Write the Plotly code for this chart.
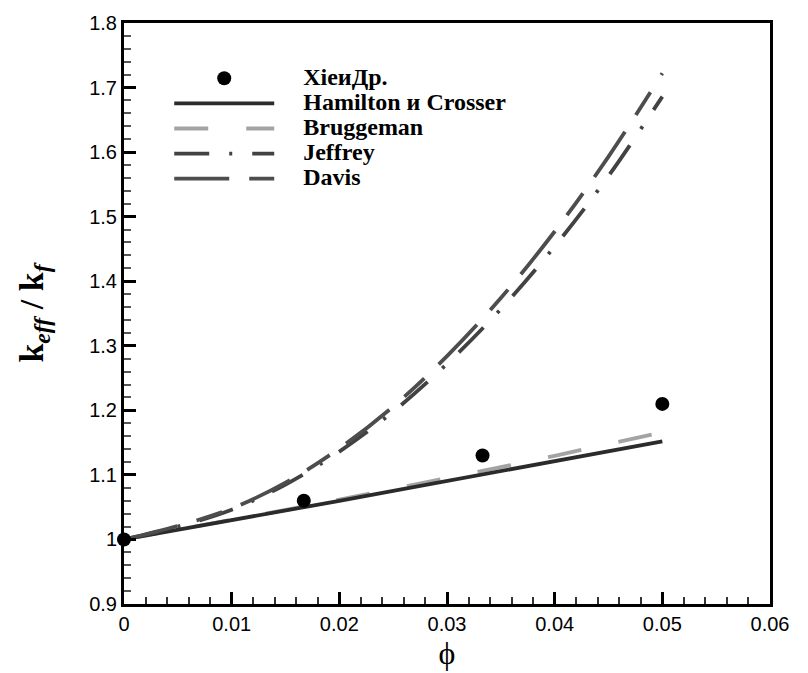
import plotly.graph_objects as go

phi = [0, 0.005, 0.01, 0.015, 0.02, 0.025, 0.03, 0.035, 0.04, 0.045, 0.05]
hamilton = [1.0, 1.0147, 1.0296, 1.0446, 1.0598, 1.0751, 1.0906, 1.1062, 1.1215, 1.1370, 1.152]
bruggeman = [1.0, 1.0149, 1.0301, 1.0457, 1.0617, 1.0780, 1.0948, 1.1120, 1.1296, 1.1477, 1.166]
jeffrey = [1.0, 1.020, 1.046, 1.085, 1.136, 1.198, 1.272, 1.357, 1.454, 1.563, 1.686]
davis = [1.0, 1.021, 1.048, 1.088, 1.141, 1.206, 1.284, 1.374, 1.477, 1.593, 1.722]

exp_phi = [0, 0.0167, 0.0333, 0.05]
exp_k = [1.0, 1.06, 1.13, 1.21]

x_ticks = [0, 0.01, 0.02, 0.03, 0.04, 0.05, 0.06]
x_labels = ["0", "0.01", "0.02", "0.03", "0.04", "0.05", "0.06"]
y_ticks = [0.9, 1.0, 1.1, 1.2, 1.3, 1.4, 1.5, 1.6, 1.7, 1.8]
y_labels = ["0.9", "1", "1.1", "1.2", "1.3", "1.4", "1.5", "1.6", "1.7", "1.8"]


def leg(name):
    return ('<span style="font-size:24px"><b>\u00a0\u00a0\u00a0\u00a0' + name + '</b></span>')


fig = go.Figure()
fig.add_trace(go.Scatter(x=phi, y=bruggeman, mode="lines", name=leg("Bruggeman"), legendrank=3,
                         line=dict(color="#a3a3a3", width=3.8, dash="34px,38px")))
fig.add_trace(go.Scatter(x=phi, y=hamilton, mode="lines", name=leg("Hamilton и Crosser"), legendrank=2,
                         line=dict(color="#2b2b2b", width=3.8)))
fig.add_trace(go.Scatter(x=phi, y=jeffrey, mode="lines", name=leg("Jeffrey"), legendrank=4,
                         line=dict(color="#424242", width=3.8, dash="35px,20px,3px,20px", shape="spline")))
fig.add_trace(go.Scatter(x=phi, y=davis, mode="lines", name=leg("Davis"), legendrank=5,
                         line=dict(color="#4d4d4d", width=3.8, dash="55px,20px,27px,20px", shape="spline")))
fig.add_trace(go.Scatter(x=exp_phi, y=exp_k, mode="markers", name=leg("XieиДр."), legendrank=1,
                         marker=dict(color="black", size=14), cliponaxis=False))

axis_common = dict(
    showline=True, linewidth=3, linecolor="black", mirror=True,
    ticks="inside", ticklen=12, tickwidth=3, tickcolor="black",
    showgrid=False, zeroline=False,
    tickfont=dict(family="Liberation Sans, Arial", size=20, color="black"),
)

fig.update_xaxes(range=[0, 0.06], tickvals=x_ticks, ticktext=x_labels,
                 minor=dict(ticks="inside", ticklen=7, tickwidth=1.5, tickcolor="#333", dtick=0.002, showgrid=False),
                 title=dict(text="ϕ", font=dict(family="Liberation Serif, Times New Roman", size=32, color="black"), standoff=4),
                 **axis_common)
fig.update_yaxes(range=[0.9, 1.8], tickvals=y_ticks, ticktext=y_labels,
                 minor=dict(ticks="inside", ticklen=7, tickwidth=1.5, tickcolor="#555", dtick=0.02, showgrid=False),
                 title=dict(text="<b>k</b><sub><b><i>eff</i></b></sub><b> / k</b><sub><b><i>f</i></b></sub>",
                            font=dict(family="Liberation Serif, Times New Roman", size=34, color="black"), standoff=36),
                 **axis_common)

fig.update_layout(
    width=808, height=673,
    margin=dict(l=124, r=38, t=17, b=65),
    paper_bgcolor="white", plot_bgcolor="white",
    showlegend=True,
    legend=dict(x=0.07, y=0.935, xanchor="left", yanchor="top",
                bgcolor="rgba(0,0,0,0)", borderwidth=0,
                font=dict(family="Liberation Serif, Times New Roman", size=17, color="black"),
                itemwidth=100, tracegroupgap=0, traceorder="normal"),
)

fig.write_html("out.html", config={"displayModeBar": False},
               post_script="document.body.style.margin='0';document.body.style.overflow='hidden';")
